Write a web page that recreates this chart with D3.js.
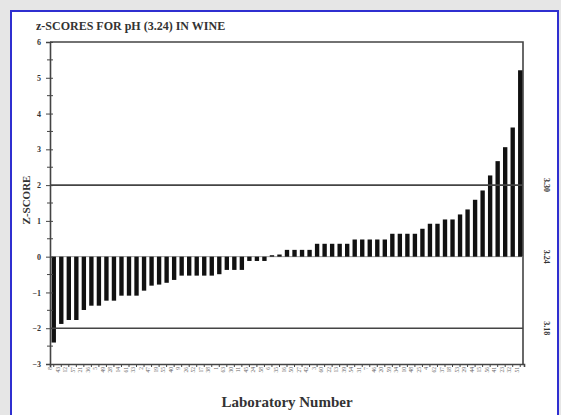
<!DOCTYPE html>
<html>
<head>
<meta charset="utf-8">
<script src="https://cdn.jsdelivr.net/npm/d3@7"></script>
<style>
  body { margin: 0; background: #e6e6e6; }
  svg { display: block; }
</style>
</head>
<body>
<div id="chart"></div>
<script>
// z-scores, sorted low to high
var labs = ["8", "43", "12", "57", "21", "36", "5", "49", "28", "14", "61", "33", "2", "47", "19",
  "55", "40", "9", "26", "52", "17", "38", "1", "63", "30", "11", "45", "24", "58", "6",
  "35", "16", "50", "27", "42", "3", "60", "22", "13", "39", "54", "31", "7", "46", "20",
  "59", "34", "10", "48", "25", "4", "62", "37", "18", "53", "29", "44", "15", "56", "41",
  "23", "32", "51"];
var zScores = [-2.40, -1.88, -1.77, -1.77, -1.49, -1.37, -1.37, -1.23, -1.23, -1.09, -1.09, -1.09, -0.95, -0.81, -0.78,
  -0.73, -0.65, -0.53, -0.53, -0.53, -0.53, -0.53, -0.49, -0.37, -0.37, -0.37, -0.12, -0.12, -0.12, 0.04,
  0.06, 0.19, 0.19, 0.19, 0.19, 0.36, 0.36, 0.36, 0.36, 0.36, 0.48, 0.48, 0.48, 0.48, 0.48,
  0.64, 0.64, 0.64, 0.64, 0.78, 0.92, 0.92, 1.04, 1.04, 1.18, 1.32, 1.59, 1.85, 2.27, 2.67,
  3.06, 3.61, 5.21];
var yTicks = [-3, -2, -1, 0, 1, 2, 3, 4, 5, 6];
var limitLines = [2, -2];
var phLabels = [{ z: 2, text: "3.30" }, { z: 0, text: "3.24" }, { z: -2, text: "3.18" }];

var svgWidth = 561;
var svgHeight = 415;
var lineColor = "#444";

var svg = d3.select("#chart")
  .append("svg")
  .attr("width", svgWidth)
  .attr("height", svgHeight);

// white panel with blue border
svg.append("rect")
  .attr("x", 11)
  .attr("y", 11)
  .attr("width", 547)
  .attr("height", 410)
  .attr("fill", "#fff")
  .attr("stroke", "#2f2fd0")
  .attr("stroke-width", 2);

var x = d3.scaleBand()
  .domain(d3.range(zScores.length))
  .range([50, 524])
  .paddingInner(0.42)
  .paddingOuter(0.21);

var y = d3.scaleLinear()
  .domain([-3, 6])
  .range([364, 42]);

// frame top and right
svg.append("path")
  .attr("d", `M50,${y(6)}H523V${y(-3)}`)
  .attr("fill", "none")
  .attr("stroke", lineColor)
  .attr("stroke-width", 1.6);

// zero line
svg.append("line")
  .attr("x1", 50).attr("x2", 523)
  .attr("y1", y(0)).attr("y2", y(0))
  .attr("stroke", "#999")
  .attr("stroke-width", 1);

// bars
svg.selectAll("rect.bar")
  .data(zScores)
  .enter()
  .append("rect")
  .attr("class", "bar")
  .attr("x", (d, i) => x(i))
  .attr("width", x.bandwidth())
  .attr("y", d => y(Math.max(0, d)))
  .attr("height", d => Math.abs(y(d) - y(0)))
  .attr("fill", "#111");

// +/-2 lines
svg.selectAll("line.limit")
  .data(limitLines)
  .enter()
  .append("line")
  .attr("class", "limit")
  .attr("x1", 50).attr("x2", 523)
  .attr("y1", d => y(d)).attr("y2", d => y(d))
  .attr("stroke", lineColor)
  .attr("stroke-width", 1.6);

// left axis
var leftAxis = d3.axisLeft(y)
  .tickValues(yTicks)
  .tickSize(4)
  .tickPadding(5)
  .tickFormat(d3.format("d"));

var yAxis = svg.append("g")
  .attr("transform", "translate(50,0)")
  .call(leftAxis);
yAxis.select(".domain").attr("stroke", lineColor).attr("stroke-width", 1.6);
yAxis.selectAll(".tick line").attr("x2", -4).attr("x1", 3).attr("stroke", lineColor);
yAxis.selectAll(".tick text")
  .attr("font-family", "Liberation Serif")
  .attr("font-weight", "bold")
  .attr("font-size", 8)
  .attr("fill", "#333");

// minor ticks at the halves
var minorTicks = yTicks.slice(0, -1).map(d => d + 0.5);
svg.append("g")
  .selectAll("line")
  .data(minorTicks)
  .enter()
  .append("line")
  .attr("x1", 47).attr("x2", 53)
  .attr("y1", d => y(d)).attr("y2", d => y(d))
  .attr("stroke", lineColor);

// bottom axis
var bottomAxis = d3.axisBottom(x)
  .tickSize(3)
  .tickPadding(2)
  .tickFormat(i => labs[i]);

var xAxis = svg.append("g")
  .attr("transform", `translate(0,${y(-3)})`)
  .call(bottomAxis);
xAxis.select(".domain").attr("stroke", lineColor).attr("stroke-width", 1.6);
xAxis.selectAll(".tick line").attr("stroke", lineColor);
xAxis.selectAll(".tick text")
  .attr("transform", "rotate(-90)")
  .attr("text-anchor", "end")
  .attr("dx", "-3")
  .attr("dy", "-1.5")
  .attr("y", 0)
  .attr("x", 0)
  .attr("font-family", "Liberation Serif")
  .attr("font-size", 5.5)
  .attr("fill", "#666");

// title
svg.append("text")
  .attr("x", 36)
  .attr("y", 30)
  .attr("font-family", "Liberation Serif")
  .attr("font-weight", "bold")
  .attr("font-size", 12)
  .attr("fill", "#333")
  .text("z-SCORES FOR pH (3.24) IN WINE");

// y label
svg.append("text")
  .attr("transform", "translate(30,200) rotate(-90)")
  .attr("text-anchor", "middle")
  .attr("font-family", "Liberation Serif")
  .attr("font-weight", "bold")
  .attr("font-size", 11)
  .attr("fill", "#333")
  .text("Z-SCORE");

// x label
svg.append("text")
  .attr("x", 287)
  .attr("y", 407)
  .attr("text-anchor", "middle")
  .attr("font-family", "Liberation Serif")
  .attr("font-weight", "bold")
  .attr("font-size", 15)
  .attr("fill", "#333")
  .text("Laboratory Number");

// pH values on the right
svg.selectAll("text.ph")
  .data(phLabels)
  .enter()
  .append("text")
  .attr("class", "ph")
  .attr("transform", d => `translate(544,${y(d.z)}) rotate(90)`)
  .attr("text-anchor", "middle")
  .attr("font-family", "Liberation Serif")
  .attr("font-weight", "bold")
  .attr("font-size", 8)
  .attr("fill", "#333")
  .text(d => d.text);
</script>
</body>
</html>
